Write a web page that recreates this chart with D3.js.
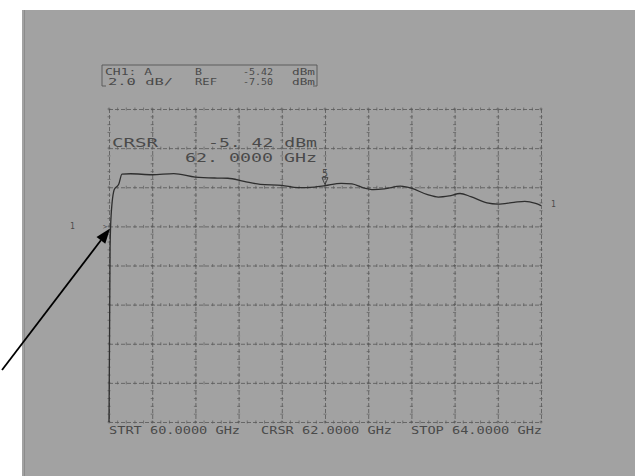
<!DOCTYPE html>
<html>
<head>
<meta charset="utf-8">
<script src="https://cdn.jsdelivr.net/npm/d3@7"></script>
<style>
  html, body { margin: 0; padding: 0; background: #fff; }
  svg { display: block; }
  text { font-family: "DejaVu Sans Mono", monospace; fill: #4a4a4a; }
</style>
</head>
<body>
<div id="chart"></div>
<script>
// Frequency sweep (GHz) and measured power (dBm)
const freqGHz = [60.000, 60.010, 60.020, 60.050, 60.090, 60.120, 60.20, 60.40, 60.60, 60.80,
  61.00, 61.10, 61.25, 61.40, 61.60, 61.75, 61.90, 62.00, 62.15, 62.25, 62.35, 62.45,
  62.55, 62.70, 62.80, 62.95, 63.05, 63.15, 63.25, 63.35, 63.50, 63.60, 63.75, 63.85,
  63.95, 64.00];
const powerDBm = [-17.5, -8.6, -6.9, -5.6, -5.35, -4.83, -4.81, -4.86, -4.80, -4.98,
  -5.03, -5.04, -5.20, -5.35, -5.40, -5.52, -5.49, -5.42, -5.30, -5.33, -5.52, -5.62,
  -5.58, -5.44, -5.55, -5.88, -6.00, -5.94, -5.82, -5.98, -6.30, -6.36, -6.27, -6.22,
  -6.33, -6.44];

const xDomain = [60, 64];
const refLevel = -7.5;
const dbPerDiv = 2;
const yDomain = [refLevel - 5 * dbPerDiv, refLevel + 3 * dbPerDiv];
const cursorGHz = 62.0;
const cursorDBm = -5.42;

const headerRows = [
  ["CH1: A", "B", "-5.42", "dBm"],
  ["2.0 dB/", "REF", "-7.50", "dBm"],
];
const footerLabels = ["STRT 60.0000 GHz", "CRSR 62.0000 GHz", "STOP 64.0000 GHz"];

const W = 635, H = 476;
const margin = { top: 109, left: 109, right: 94, bottom: 54 };
const width = W - margin.left - margin.right;
const height = H - margin.top - margin.bottom;

const svg = d3.select("#chart").append("svg")
  .attr("width", W).attr("height", H);

// scanned page
svg.append("rect").attr("x", 22).attr("y", 10).attr("width", W - 22).attr("height", H - 10)
  .attr("fill", "#a2a2a2");
svg.append("line").attr("x1", 24.5).attr("x2", 24.5).attr("y1", 10).attr("y2", H)
  .attr("stroke", "#8c8c8c").attr("stroke-width", 1);

const g = svg.append("g").attr("transform", `translate(${margin.left},${margin.top})`);

const x = d3.scaleLinear().domain(xDomain).range([0, width]);
const y = d3.scaleLinear().domain(yDomain).range([height, 0]);

const majorXs = d3.range(0, 11).map(i => 60 + i * 0.4);
const majorYs = d3.range(0, 9).map(i => yDomain[0] + i * dbPerDiv);

// grid
const xGrid = g.append("g")
  .call(d3.axisBottom(x).tickValues(majorXs).tickSize(height).tickFormat(""));
xGrid.select(".domain").remove();
xGrid.selectAll("line").attr("stroke", "#585858").attr("stroke-dasharray", "4,2").attr("stroke-width", 0.8);

const yGrid = g.append("g")
  .call(d3.axisLeft(y).tickValues(majorYs).tickSize(-width).tickFormat(""));
yGrid.select(".domain").remove();
yGrid.selectAll("line").attr("stroke", "#585858").attr("stroke-dasharray", "4,2").attr("stroke-width", 0.8);

// minor ticks along grid lines
const minorX = d3.range(0, 51).map(i => 60 + i * 0.08);
const minorY = d3.range(0, 41).map(i => yDomain[0] + i * dbPerDiv / 5);
g.append("g").selectAll("line")
  .data(majorYs.flatMap(v => minorX.map(f => ({ f, v }))))
  .join("line")
  .attr("x1", d => x(d.f)).attr("x2", d => x(d.f))
  .attr("y1", d => y(d.v) - 1.5).attr("y2", d => y(d.v) + 1.5)
  .attr("stroke", "#5a5a5a").attr("stroke-width", 0.7);
g.append("g").selectAll("line")
  .data(majorXs.flatMap(f => minorY.map(v => ({ f, v }))))
  .join("line")
  .attr("x1", d => x(d.f) - 1.5).attr("x2", d => x(d.f) + 1.5)
  .attr("y1", d => y(d.v)).attr("y2", d => y(d.v))
  .attr("stroke", "#5a5a5a").attr("stroke-width", 0.7);

// trace
const line = d3.line().x((d, i) => x(freqGHz[i])).y(d => y(d)).curve(d3.curveMonotoneX);
g.append("path").datum(powerDBm).attr("d", line)
  .attr("fill", "none").attr("stroke", "#2e2e2e").attr("stroke-width", 1.3);

// cursor marker
const mx = x(cursorGHz), my = y(cursorDBm);
g.append("path").attr("d", `M${mx - 3},${my - 8}L${mx + 3},${my - 8}L${mx},${my - 1}Z`)
  .attr("fill", "none").attr("stroke", "#3a3a3a").attr("stroke-width", 0.9);
g.append("text").attr("x", mx).attr("y", my - 9).attr("text-anchor", "middle")
  .attr("font-size", 10).text("5");

// reference markers
g.append("text").attr("x", -39).attr("y", y(refLevel) + 3).attr("font-size", 8).text("1");
g.append("text").attr("x", -6).attr("y", y(refLevel) + 3).attr("font-size", 7).text(">");
g.append("text").attr("x", width + 10).attr("y", y(powerDBm[powerDBm.length - 1]) + 1)
  .attr("font-size", 8).text("1");

// cursor readout
g.append("text").attr("x", 3).attr("y", 37.5).attr("font-size", 12.5)
  .attr("textLength", 46).attr("lengthAdjust", "spacingAndGlyphs").text("CRSR");
g.append("text").attr("x", 99).attr("y", 37.5).attr("font-size", 12.5)
  .attr("textLength", 109).attr("lengthAdjust", "spacingAndGlyphs").text("-5. 42  dBm");
g.append("text").attr("x", 76).attr("y", 52.5).attr("font-size", 12.5)
  .attr("textLength", 132).attr("lengthAdjust", "spacingAndGlyphs").text("62. 0000  GHz");

// header box
const hdr = svg.append("g").attr("transform", "translate(102,65)");
hdr.append("path").attr("d", "M0,21V0H215V21M0,21H4M215,21H211")
  .attr("fill", "none").attr("stroke", "#555").attr("stroke-width", 0.9);
const colX = [[3, 93, 141, 190], [6, 93, 141, 190]];
const colW = [[47, 7, 30, 23], [65, 22, 30, 23]];
headerRows.forEach((row, r) => {
  row.forEach((t, c) => {
    hdr.append("text").attr("x", colX[r][c]).attr("y", 10 + r * 10)
      .attr("font-size", 8.5)
      .attr("textLength", colW[r][c]).attr("lengthAdjust", "spacingAndGlyphs")
      .text(t);
  });
});

// footer labels
const footX = [0, 152, 302];
footerLabels.forEach((t, i) => {
  g.append("text").attr("x", footX[i]).attr("y", height + 12).attr("font-size", 10)
    .attr("textLength", 131).attr("lengthAdjust", "spacingAndGlyphs").text(t);
});

// annotation arrow pointing at the reference position
const tipX = margin.left + x(60) + 1, tipY = margin.top + y(refLevel) + 2;
const startX = 2, startY = 370;
const ang = Math.atan2(tipY - startY, tipX - startX);
const hl = 15, hw = 5.5;
const bx = tipX - hl * Math.cos(ang), by = tipY - hl * Math.sin(ang);
svg.append("line").attr("x1", startX).attr("y1", startY).attr("x2", bx).attr("y2", by)
  .attr("stroke", "#000").attr("stroke-width", 1.8);
svg.append("path")
  .attr("d", `M${tipX},${tipY}L${bx + hw * Math.sin(ang)},${by - hw * Math.cos(ang)}L${bx - hw * Math.sin(ang)},${by + hw * Math.cos(ang)}Z`)
  .attr("fill", "#000");
</script>
</body>
</html>
